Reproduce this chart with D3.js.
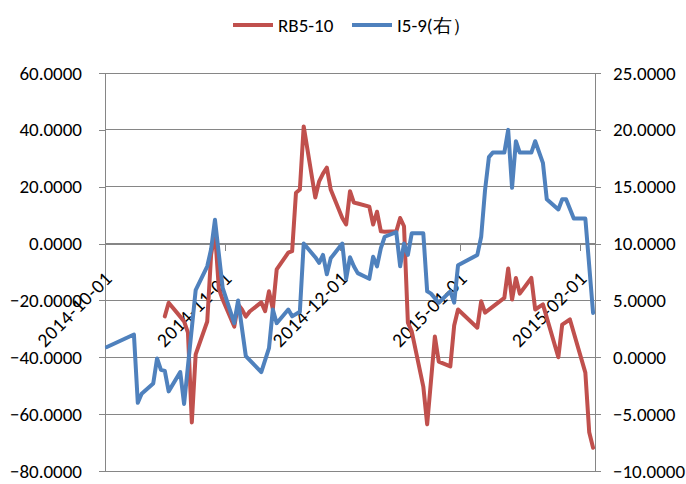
<!DOCTYPE html>
<html><head><meta charset="utf-8">
<script src="https://cdn.jsdelivr.net/npm/d3@7"></script>
<style>
html,body{margin:0;padding:0;background:#fff;}
text{font-family:Calibri,Carlito,"Liberation Sans",Arial,sans-serif;fill:#000;}
</style></head>
<body>
<svg id="chart" width="686" height="484"></svg>
<script>
// ---- data ----
const redDates = ["2014-10-16","2014-10-17","2014-10-20","2014-10-21","2014-10-22","2014-10-23","2014-10-24","2014-10-27","2014-10-28","2014-10-29","2014-10-30","2014-10-31",
"2014-11-03","2014-11-04","2014-11-05","2014-11-06","2014-11-07","2014-11-10","2014-11-11","2014-11-12","2014-11-13","2014-11-14","2014-11-17","2014-11-18","2014-11-19","2014-11-20","2014-11-21","2014-11-24","2014-11-25","2014-11-26","2014-11-27","2014-11-28",
"2014-12-01","2014-12-02","2014-12-03","2014-12-04","2014-12-05","2014-12-08","2014-12-09","2014-12-10","2014-12-11","2014-12-12","2014-12-15","2014-12-16","2014-12-17","2014-12-18","2014-12-19","2014-12-22","2014-12-23","2014-12-25","2014-12-26","2014-12-29","2014-12-30","2014-12-31",
"2015-01-05","2015-01-06","2015-01-07","2015-01-12","2015-01-13","2015-01-14","2015-01-15","2015-01-16","2015-01-19","2015-01-20","2015-01-22","2015-01-26","2015-01-27","2015-01-29","2015-02-02","2015-02-03","2015-02-04"];
const redValues = [-25.6,-20.8,-25.7,-27.4,-31.3,-62.9,-39.0,-27.4,-3.9,4.2,-15.8,-19.7,
-29.2,-21.4,-23.2,-25.7,-23.9,-20.7,-23.8,-16.8,-23.0,-9.1,-3.2,-2.7,17.9,19.0,41.2,16.2,21.9,24.6,26.7,19.0,
9.0,6.7,18.4,14.4,14.1,13.0,6.7,11.2,4.3,4.2,4.3,9.0,6.1,-27.8,-30.9,-50.3,-63.6,-32.7,-41.5,-43.2,-28.8,-23.2,
-29.6,-20.3,-24.3,-19.1,-8.8,-19.7,-12.1,-17.6,-12.1,-23.2,-21.4,-40.0,-28.5,-26.7,-45.4,-66.4,-71.8];

const blueDates = ["2014-10-01","2014-10-08","2014-10-09","2014-10-10","2014-10-13","2014-10-14","2014-10-15","2014-10-16","2014-10-17","2014-10-20","2014-10-21","2014-10-24","2014-10-27","2014-10-28","2014-10-29","2014-10-31",
"2014-11-03","2014-11-04","2014-11-06","2014-11-10","2014-11-12","2014-11-13","2014-11-14","2014-11-17","2014-11-18","2014-11-20","2014-11-21","2014-11-24","2014-11-25","2014-11-26","2014-11-27","2014-11-28",
"2014-12-01","2014-12-02","2014-12-03","2014-12-04","2014-12-05","2014-12-08","2014-12-09","2014-12-10","2014-12-11","2014-12-12","2014-12-15","2014-12-16","2014-12-17","2014-12-18","2014-12-19","2014-12-22","2014-12-23","2014-12-24","2014-12-26","2014-12-29","2014-12-30","2014-12-31",
"2015-01-05","2015-01-06","2015-01-07","2015-01-08","2015-01-09","2015-01-12","2015-01-13","2015-01-14","2015-01-15","2015-01-16","2015-01-19","2015-01-20","2015-01-22","2015-01-23","2015-01-26","2015-01-27","2015-01-28","2015-01-30","2015-02-02","2015-02-04"];
const blueValues = [0.9,2.0,-4.0,-3.2,-2.3,-0.1,-1.1,-1.2,-3.0,-1.3,-4.1,5.9,8.0,9.5,12.1,6.1,
3.0,5.0,0.1,-1.3,0.8,4.2,3.0,4.2,3.6,4.0,10.0,8.8,8.3,9.0,7.3,8.7,
10.0,6.9,8.8,8.0,7.4,6.9,8.85,8.0,9.6,10.6,11.0,8.0,10.0,9.0,10.9,10.9,5.8,5.6,4.8,5.8,4.8,8.1,
9.0,10.6,14.7,17.6,18.0,18.0,20.0,14.9,19.0,18.0,18.0,19.0,17.1,13.9,13.0,13.9,13.9,12.2,12.2,3.9];

const leftTicks = [60,40,20,0,-20,-40,-60,-80];
const rightTicks = [25,20,15,10,5,0,-5,-10];
const xTickDates = ["2014-10-01","2014-11-01","2014-12-01","2015-01-01","2015-02-01"];
const seriesNames = ["RB5-10","I5-9(右）"];
const seriesColors = ["#C0504D","#4F81BD"];

// ---- chart ----
const svg = d3.select("#chart");
const parse = d3.timeParse("%Y-%m-%d");
const L = 105, R = 595, T = 73, B = 471;
const gridColor = "#868686";
const fontSize = 19;
const ff = "Calibri,Carlito,'Liberation Sans',Arial,sans-serif";

const x = d3.scaleTime().domain([parse("2014-10-01"), parse("2015-02-05")]).range([L, R]);
const yL = d3.scaleLinear().domain([-80, 60]).range([B, T]);
const yR = d3.scaleLinear().domain([-10, 25]).range([B, T]);
const xp = d => x(d3.timeHour.offset(parse(d), 12));

// gridlines
svg.append("g").selectAll("line").data(leftTicks).join("line")
  .attr("x1", L).attr("x2", R).attr("y1", d => yL(d)).attr("y2", d => yL(d))
  .attr("stroke", gridColor).attr("stroke-width", 1).attr("shape-rendering","crispEdges");

// left axis
const gL = svg.append("g").attr("transform", `translate(${L},0)`)
  .call(d3.axisLeft(yL).tickValues(leftTicks).tickFormat(d3.format(".4f")).tickSize(6).tickSizeOuter(0).tickPadding(17));
// right axis
const gR = svg.append("g").attr("transform", `translate(${R},0)`)
  .call(d3.axisRight(yR).tickValues(rightTicks).tickFormat(d3.format(".4f")).tickSize(6).tickSizeOuter(0).tickPadding(12));
[gL, gR].forEach(g => {
  g.select(".domain").attr("stroke", gridColor).attr("shape-rendering","crispEdges");
  g.selectAll(".tick line").attr("stroke", gridColor).attr("shape-rendering","crispEdges");
  g.selectAll(".tick text").attr("font-size", fontSize).attr("fill", "#000").style("font-family", ff);
});

// x axis at value 0
const y0 = yL(0);
const gX = svg.append("g").attr("transform", `translate(0,${y0})`)
  .call(d3.axisBottom(x).tickValues(xTickDates.map(parse)).tickFormat(d3.timeFormat("%Y-%m-%d")).tickSize(7).tickSizeOuter(0));
gX.select(".domain").attr("stroke", gridColor).attr("shape-rendering","crispEdges");
gX.selectAll(".tick line").attr("stroke", gridColor).attr("shape-rendering","crispEdges");
gX.selectAll(".tick text")
  .attr("font-size", 19.5).attr("fill", "#000").style("font-family", ff)
  .style("letter-spacing", "0.6px")
  .attr("text-anchor", "end").attr("dy", null).attr("y", 0)
  .attr("transform", "translate(8,36) rotate(-45)");

// lines
const redData = redDates.map((d, i) => ({d, v: redValues[i]}));
const blueData = blueDates.map((d, i) => ({d, v: blueValues[i]}));
svg.append("path").datum(redData)
  .attr("d", d3.line().x(p => xp(p.d)).y(p => yL(p.v)))
  .attr("fill", "none").attr("stroke", seriesColors[0]).attr("stroke-width", 4)
  .attr("stroke-linejoin", "round").attr("stroke-linecap", "round");
svg.append("path").datum(blueData)
  .attr("d", d3.line().x(p => xp(p.d)).y(p => yR(p.v)))
  .attr("fill", "none").attr("stroke", seriesColors[1]).attr("stroke-width", 4)
  .attr("stroke-linejoin", "round").attr("stroke-linecap", "round");

// legend
const legend = svg.append("g");
const legendX = [233, 352];
seriesNames.forEach((name, i) => {
  legend.append("line").attr("x1", legendX[i]).attr("x2", legendX[i] + 40)
    .attr("y1", 25).attr("y2", 25).attr("stroke", seriesColors[i]).attr("stroke-width", 4);
  legend.append("text").attr("x", legendX[i] + 45).attr("y", 32)
    .attr("font-size", fontSize).style("font-family", ff).text(name);
});
</script>
</body></html>
